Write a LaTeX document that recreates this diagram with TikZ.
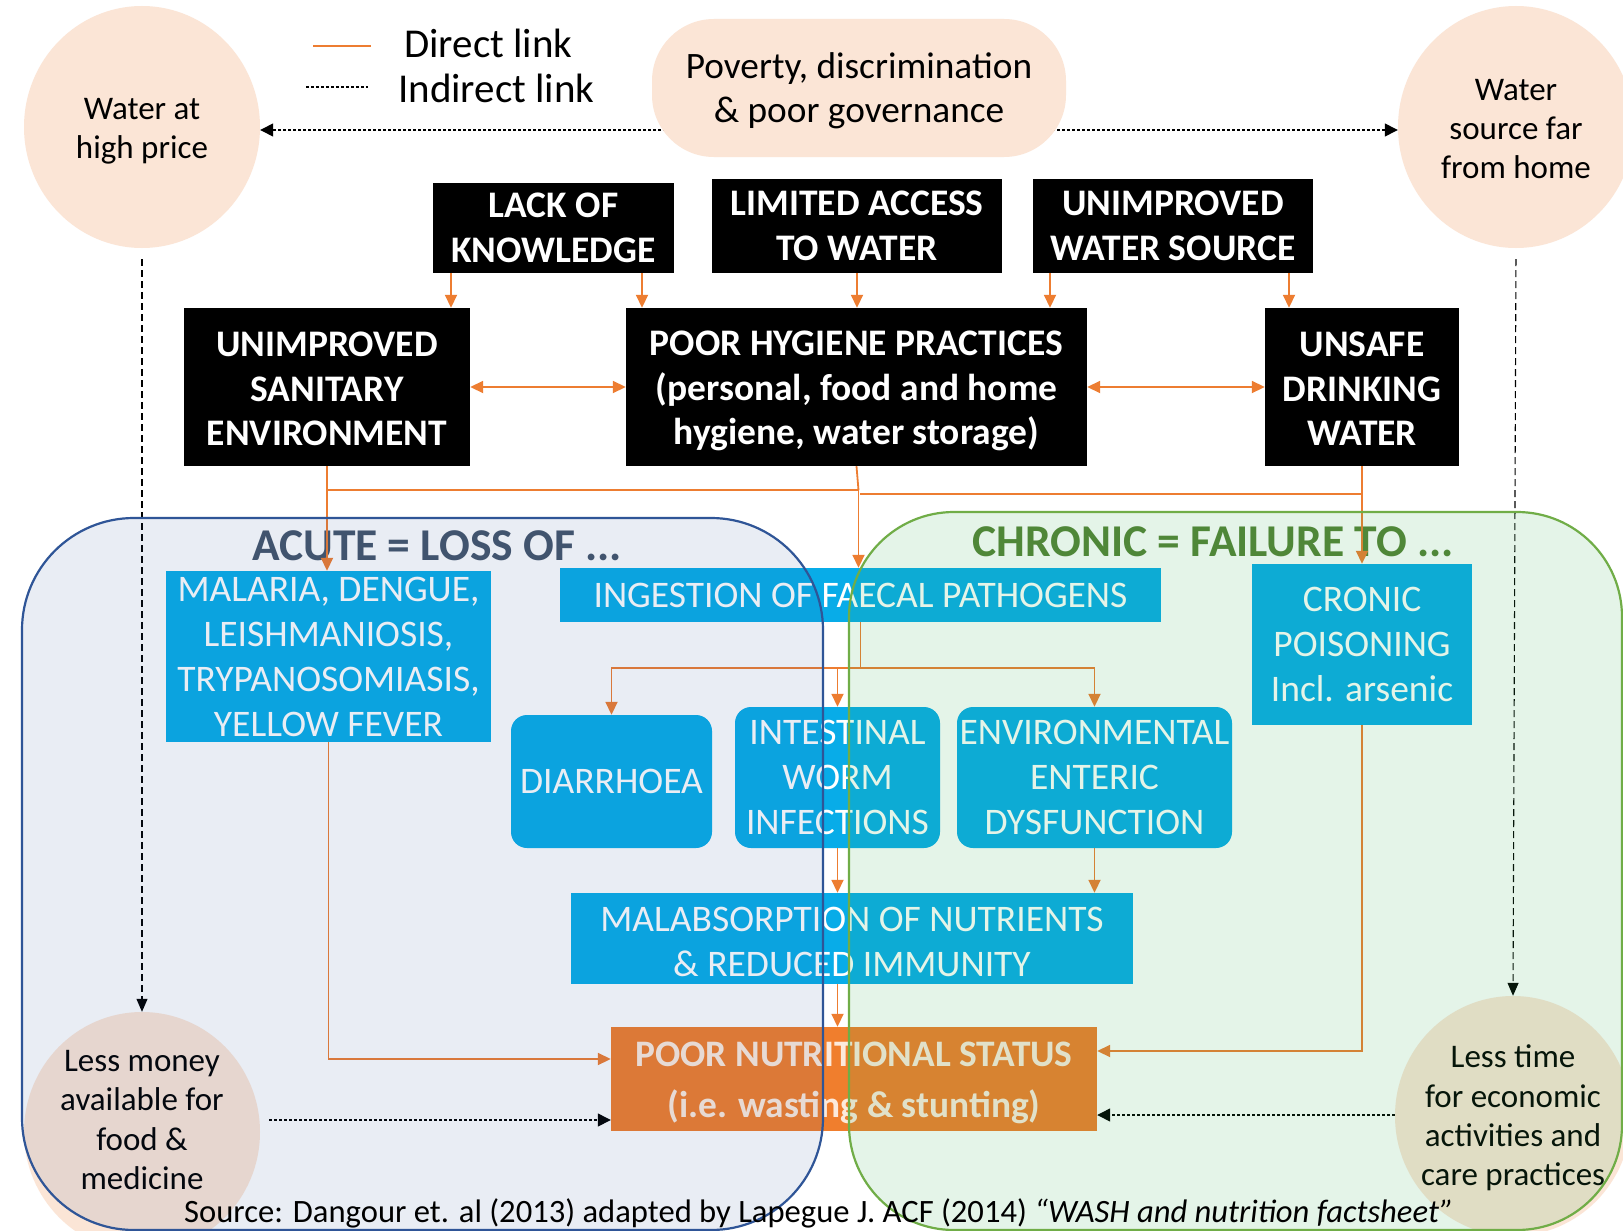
\documentclass[tikz,border=0pt]{standalone}
\usepackage{fontspec}
\setmainfont{Carlito}
\usetikzlibrary{arrows.meta,shapes.geometric}
\definecolor{peach}{RGB}{251,229,214}
\definecolor{cyanbox}{RGB}{8,172,232}
\definecolor{orng}{RGB}{237,125,49}
\definecolor{nutri}{RGB}{240,126,45}
\definecolor{acuteb}{RGB}{47,85,151}
\definecolor{acutef}{RGB}{47,85,151}
\definecolor{chronb}{RGB}{112,173,71}
\definecolor{chronf}{RGB}{50,170,80}
\definecolor{acutet}{RGB}{68,84,106}
\definecolor{chront}{RGB}{84,130,53}
\definecolor{cream}{RGB}{252,234,220}
\newcommand\fsz[2]{\fontsize{#1}{#2}\selectfont}
\begin{document}
\begin{tikzpicture}[x=1pt,y=-1pt,
  blk/.style={fill=black,text=white,font=\bfseries\fsz{37.5}{44.5},align=center,inner sep=0pt},
  blktxt/.style={text=white,font=\bfseries\fsz{37.5}{44.5},align=center,inner sep=0pt},
  blu/.style={fill=cyanbox,text=white,font=\fsz{37.5}{45},align=center,inner sep=0pt},
  blutxt/.style={text=white,font=\fsz{37.5}{45},align=center,inner sep=0pt},
  blur/.style={blu,rounded corners=16pt},
  circ/.style={ellipse,fill=peach,inner sep=0pt,align=center,font=\fsz{33}{39.3}},
  circtxt/.style={align=center,font=\fsz{33}{39.3},inner sep=0pt},
  oa/.style={draw=orng,line width=1.8pt,-{Triangle[length=13pt,width=12pt]}},
  ol/.style={draw=orng,line width=1.8pt},
  oaa/.style={draw=orng,line width=1.8pt,{Triangle[length=13pt,width=12pt]}-{Triangle[length=13pt,width=12pt]}},
  dotar/.style={draw=black,line width=1.3pt,dash pattern=on 3pt off 2pt,-{Triangle[length=13pt,width=13pt]}},
  dshar/.style={draw=black,line width=1.1pt,dash pattern=on 7pt off 4pt,-{Triangle[length=13pt,width=11pt]}},
  ttl/.style={font=\bfseries\fsz{45.5}{50},inner sep=0pt}
]
\useasboundingbox (0,0) rectangle (1623,1231);
\fill[white] (0,0) rectangle (1623,1231);

% legend
\coordinate (lg1) at (313,46);
\coordinate (lg2) at (371,46);
\coordinate (lg3) at (306,87);
\coordinate (lg4) at (368,87);
\draw[orng,line width=1.3pt] (lg1) -- (lg2);
\draw[black,line width=1.2pt,dash pattern=on 3pt off 2pt] (lg3) -- (lg4);
\node[anchor=west,font=\fsz{41}{48},inner sep=0pt] (ldir) at (404,43) {Direct link};
\node[anchor=west,font=\fsz{41}{48},inner sep=0pt] (lind) at (398,88) {Indirect link};

% top circles
\node[circ,minimum width=236pt,minimum height=242pt,
  label={[name=whight,circtxt,yshift=-4pt]center:{Water at\\high price}}] (whigh) at (142,127) {};
\node[circ,minimum width=236pt,minimum height=242pt,
  label={[name=wfart,circtxt,yshift=-2pt]center:{Water\\source far\\from home}}] (wfar) at (1516,127) {};

% poverty (drawn after dotted lines)
\coordinate (povc) at (859,88);
\path (povc) ++(-193,42) coordinate (povL);
\path (povc) ++(193,42) coordinate (povR);
\draw[dotar] (povL) -- (povL -| whigh.east);
\draw[dotar] (povR) -- (povR -| wfar.west);
\node[fill=peach,rounded corners=62pt,minimum width=414pt,minimum height=138pt,inner sep=0pt,
  label={[name=povt,align=center,font=\fsz{37.3}{44.5},inner sep=0pt,yshift=-3pt]center:{Poverty, discrimination\\\& poor governance}}] (pov) at (povc) {};

% black boxes
\node[blk,minimum width=241pt,minimum height=90pt] (lack) at (553.5,228) {LACK OF\\KNOWLEDGE};
\node[blk,minimum width=290pt,minimum height=94pt] (limited) at (857,226) {LIMITED ACCESS\\TO WATER};
\node[blk,minimum width=280pt,minimum height=94pt] (unwater) at (1173,226) {UNIMPROVED\\WATER SOURCE};
\node[blk,minimum width=286pt,minimum height=158pt,
  label={[name=sanitt,blktxt,yshift=-2pt]center:{UNIMPROVED\\SANITARY\\ENVIRONMENT}}] (sanit) at (327,387) {};
\node[blk,minimum width=461pt,minimum height=158pt,
  label={[name=hygt,blktxt,yshift=-4pt]center:{POOR HYGIENE PRACTICES\\(personal, food and home\\hygiene, water storage)}}] (hyg) at (856.5,387) {};
\node[blk,minimum width=194pt,minimum height=158pt,
  label={[name=unsafet,blktxt,yshift=-2pt]center:{UNSAFE\\DRINKING\\WATER}}] (unsafe) at (1362,387) {};

% titles
\node[ttl,text=acutet] (acut) at (437,546) {ACUTE = LOSS OF ...};
\node[ttl,text=chront] (chron) at (1213,542) {CHRONIC = FAILURE TO ...};

% blue boxes
\node[blu,minimum width=325pt,minimum height=171pt] (malaria) at (328.5,656.5) {MALARIA, DENGUE,\\LEISHMANIOSIS,\\TRYPANOSOMIASIS,\\YELLOW FEVER};
\node[blu,minimum width=601pt,minimum height=54pt] (ingest) at (860.5,595) {INGESTION OF FAECAL PATHOGENS};
\node[blur,minimum width=201pt,minimum height=133pt] (diarr) at (611.5,781.5) {DIARRHOEA};
\node[blur,minimum width=205pt,minimum height=141pt] (intest) at (837.5,777.5) {INTESTINAL\\WORM\\INFECTIONS};
\node[blur,minimum width=275pt,minimum height=141pt] (env) at (1094.5,777.5) {ENVIRONMENTAL\\ENTERIC\\DYSFUNCTION};
\node[blu,minimum width=220pt,minimum height=161pt] (cronic) at (1362,644.5) {CRONIC\\POISONING\\Incl. arsenic};
\node[blu,minimum width=562pt,minimum height=91pt,
  label={[name=malabst,blutxt,yshift=-3pt]center:{MALABSORPTION OF NUTRIENTS\\\& REDUCED IMMUNITY}}] (malabs) at (852,938.5) {};
\node[fill=nutri,minimum width=486pt,minimum height=104pt,inner sep=0pt,
  label={[name=poornutt,text=cream,font=\bfseries\fsz{37.4}{51.7},align=center,inner sep=0pt,yshift=-4pt]center:{POOR NUTRITIONAL STATUS\\(i.e. wasting \& stunting)}}] (poornut) at (854,1079) {};

% bottom circles
\node[circ,minimum width=236pt,minimum height=240pt,
  label={[name=lessmoneyt,circtxt,yshift=12pt]center:{Less money\\available for\\food \&\\medicine}}] (lessmoney) at (142,1132) {};
\node[circ,minimum width=236pt,minimum height=240pt,
  label={[name=lesstimet,circtxt,yshift=-2pt]center:{Less time\\for economic\\activities and\\care practices}}] (lesstime) at (1513,1116) {};

% direct links (top)
\path (lack.south) ++(-102.5,0) coordinate (a1);
\path (lack.south) ++(88.5,0) coordinate (a2);
\path (unwater.south) ++(-123,0) coordinate (a4);
\path (unwater.south) ++(116,0) coordinate (a5);
\draw[oa] (a1) -- (a1 |- sanit.north);
\draw[oa] (a2) -- (a2 |- hyg.north);
\draw[oa] (limited.south) -- (limited.south |- hyg.north);
\draw[oa] (a4) -- (a4 |- hyg.north);
\draw[oa] (a5) -- (a5 |- unsafe.north);
\draw[oaa] (sanit.east) -- (hyg.west);
\draw[oaa] (hyg.east) -- (unsafe.west);

% to middle layer
\path (hyg.south) ++(2,24) coordinate (j1);
\path (hyg.south) ++(3,28) coordinate (j2);
\draw[oa] (sanit.south) -- (sanit.south |- malaria.north);
\draw[ol] (sanit.south) |- (j1);
\draw[ol] (unsafe.south) |- (j2);
\draw[oa] (j1) -- (j1 |- ingest.north);
\draw[ol] (hyg.south) -- (j1);
\draw[oa] (unsafe.south) -- (cronic.north);

% from ingestion
\path (ingest.south) ++(0,46) coordinate (j3);
\draw[ol] (ingest.south) -- (j3);
\draw[oa] (j3) -| (diarr.north);
\draw[oa] (j3) -| (intest.north);
\draw[oa] (j3) -| (env.north);
\draw[oa] (intest.south) -- (intest.south |- malabs.north);
\draw[oa] (env.south) -- (env.south |- malabs.north);
\draw[oa] (intest.south |- malabs.south) -- (intest.south |- poornut.north);

% to poor nutrition
\path (poornut.west) ++(0,-20) coordinate (pn1);
\path (poornut.east) ++(0,-28) coordinate (pn2);
\path (poornut.west) ++(0,41) coordinate (pn3);
\path (poornut.east) ++(0,36) coordinate (pn4);
\draw[oa] (malaria.south) |- (pn1);
\draw[oa] (cronic.south) |- (pn2);
\draw[dotar,shorten <=9pt] (lessmoney.east |- pn3) -- (pn3);
\draw[dotar] (lesstime.west |- pn4) -- (pn4);

% indirect vertical links
\draw[dshar,shorten <=11pt] (whigh.south) -- (lessmoney.north);
\draw[dshar,shorten <=11pt] (wfar.south) -- (lesstime.north);

% overlays
\fill[acutef,fill opacity=0.1,rounded corners=112pt] (22,518) rectangle (823,1230);
\fill[chronf,fill opacity=0.13,rounded corners=105pt] (849,512) rectangle (1622,1230);
\draw[acuteb,line width=2.2pt,rounded corners=112pt] (22,518) rectangle (823,1230);
\draw[chronb,line width=2.2pt,rounded corners=105pt] (849,512) rectangle (1622,1230);

% source
\node[anchor=west,font=\fsz{32.6}{38},inner sep=0pt] (src) at (184,1213) {Source: Dangour et. al (2013) adapted by Lapegue J. ACF (2014) \textit{“WASH and nutrition factsheet”}};
\end{tikzpicture}
\end{document}
